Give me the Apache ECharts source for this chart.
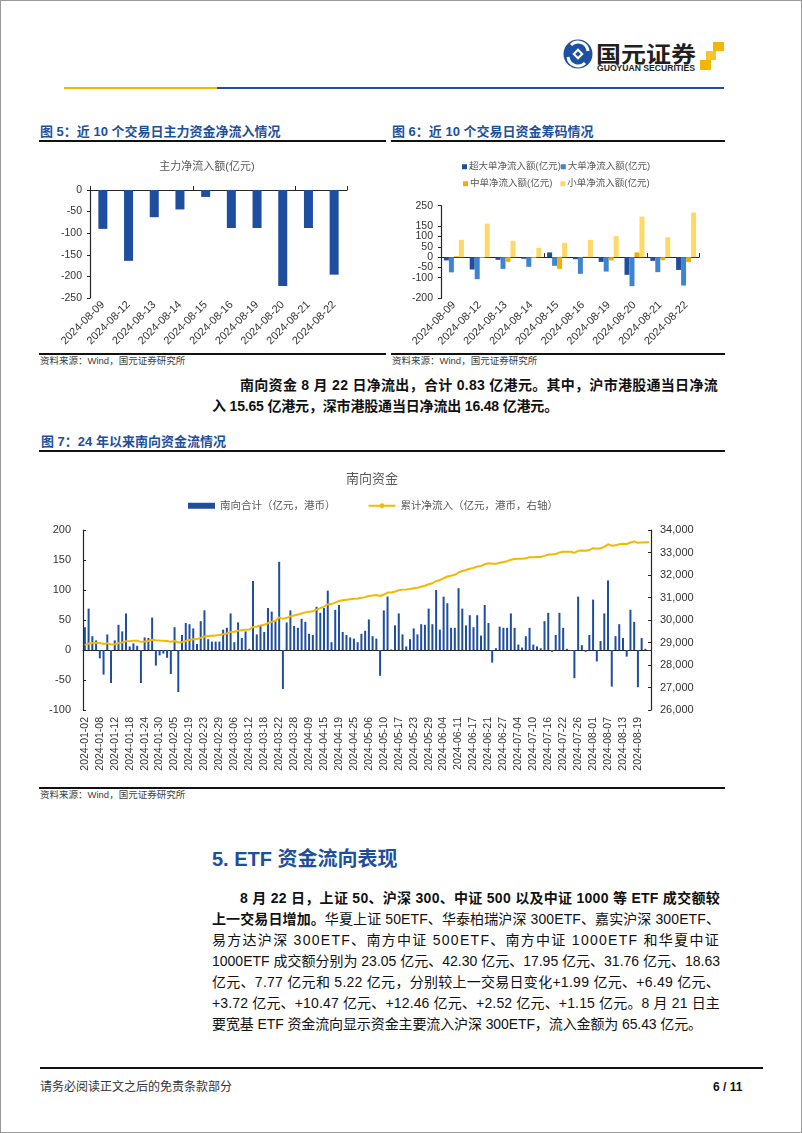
<!DOCTYPE html>
<html><head><meta charset="utf-8">
<script src="https://cdn.jsdelivr.net/npm/echarts/dist/echarts.min.js"></script>
<style>
html,body{margin:0;padding:0;background:#fff;}
#page{position:relative;width:802px;height:1133px;overflow:hidden;background:#fff;font-family:"Liberation Sans","Noto Sans CJK SC",sans-serif;}
.frame{position:absolute;left:0;top:0;width:800px;height:1131px;border:1px solid #9a9a9a;}
.abs{position:absolute;}
.rule{position:absolute;background:#111;}
.ftitle{position:absolute;font-size:13px;font-weight:bold;color:#1E4F9C;line-height:16px;white-space:nowrap;}
.src{position:absolute;font-size:9.5px;color:#404040;line-height:12px;white-space:nowrap;}
.ln{position:absolute;font-size:14px;line-height:21px;white-space:nowrap;color:#111;}
.b{font-weight:bold;}
.chart{position:absolute;}
</style></head>
<body>
<div id="page">
<div class="frame"></div>
<svg class="abs" style="left:0;top:0" width="802" height="100">
 <circle cx="578" cy="54" r="14.5" fill="#1E50A0"/>
 <path d="M571 45 A10 10 0 0 1 588 51" stroke="#fff" stroke-width="3" fill="none"/>
 <path d="M585 63 A10 10 0 0 1 568 57" stroke="#fff" stroke-width="3" fill="none"/>
 <rect x="574" y="50" width="8" height="8" fill="#fff" transform="rotate(45 578 54)"/>
 <rect x="576" y="52" width="4" height="4" fill="#1E50A0" transform="rotate(45 578 54)"/>
 <text x="596" y="62" font-size="22" font-weight="bold" fill="#231F20" textLength="100" lengthAdjust="spacingAndGlyphs" font-family="Noto Sans CJK SC">国元证券</text>
 <text x="597" y="71" font-size="8.5" font-weight="bold" fill="#231F20" textLength="98" lengthAdjust="spacingAndGlyphs" font-family="Liberation Sans">GUOYUAN SECURITIES</text>
 <rect x="713" y="42" width="11" height="9" fill="#F2B700"/>
 <rect x="706" y="51" width="10" height="9" fill="#F7C52B"/>
 <rect x="700" y="60" width="11" height="10" fill="#F2B700"/>
 <rect x="64" y="87" width="153" height="2" fill="#F5B800"/>
 <rect x="217" y="87" width="507" height="2" fill="#1E50A0"/>
</svg>

<div class="ftitle" style="left:40px;top:124px;">图 5：近 10 个交易日主力资金净流入情况</div>
<div class="ftitle" style="left:392px;top:124px;">图 6：近 10 个交易日资金筹码情况</div>
<div class="rule" style="left:39px;top:140px;width:347px;height:2px;"></div>
<div class="rule" style="left:391px;top:140px;width:334px;height:2px;"></div>
<div id="c5" class="chart" style="left:30px;top:150px;width:360px;height:200px;"></div>
<div id="c6" class="chart" style="left:390px;top:150px;width:330px;height:200px;"></div>
<div class="rule" style="left:39px;top:353px;width:347px;height:2px;"></div>
<div class="rule" style="left:391px;top:353px;width:334px;height:2px;"></div>
<div class="src" style="left:40px;top:355px;">资料来源：Wind，国元证券研究所</div>
<div class="src" style="left:392px;top:355px;">资料来源：Wind，国元证券研究所</div>

<div class="ln b" data-w="478" style="left:240px;top:374.5px;">南向资金 8 月 22 日净流出，合计 0.83 亿港元。其中，沪市港股通当日净流</div>
<div class="ln b" data-w="346" style="left:212px;top:396px;">入 15.65 亿港元，深市港股通当日净流出 16.48 亿港元。</div>

<div class="ftitle" style="left:41px;top:434px;">图 7：24 年以来南向资金流情况</div>
<div class="rule" style="left:39px;top:450px;width:686px;height:1.5px;"></div>
<div id="c7" class="chart" style="left:30px;top:465px;width:700px;height:315px;"></div>
<div class="rule" style="left:39px;top:787px;width:686px;height:2px;"></div>
<div class="src" style="left:40px;top:789px;">资料来源：Wind，国元证券研究所</div>

<div class="abs" style="left:212px;top:847px;font-size:20px;line-height:24px;font-weight:bold;color:#1E4F9C;white-space:nowrap;">5. ETF 资金流向表现</div>
<div class="ln b" data-w="480" style="left:240px;top:888px;">8 月 22 日，上证 50、沪深 300、中证 500 以及中证 1000 等 ETF 成交额较</div>
<div class="ln" data-w="508" style="left:212px;top:909px;"><span class="b">上一交易日增加。</span>华夏上证 50ETF、华泰柏瑞沪深 300ETF、嘉实沪深 300ETF、</div>
<div class="ln" data-w="508" style="left:212px;top:929.5px;">易方达沪深 300ETF、南方中证 500ETF、南方中证 1000ETF 和华夏中证</div>
<div class="ln" data-w="508" style="left:212px;top:950.5px;">1000ETF 成交额分别为 23.05 亿元、42.30 亿元、17.95 亿元、31.76 亿元、18.63</div>
<div class="ln" data-w="508" style="left:212px;top:971.5px;">亿元、7.77 亿元和 5.22 亿元，分别较上一交易日变化+1.99 亿元、+6.49 亿元、</div>
<div class="ln" data-w="508" style="left:212px;top:992.5px;">+3.72 亿元、+10.47 亿元、+12.46 亿元、+2.52 亿元、+1.15 亿元。8 月 21 日主</div>
<div class="ln" data-w="490" style="left:212px;top:1013.5px;">要宽基 ETF 资金流向显示资金主要流入沪深 300ETF，流入金额为 65.43 亿元。</div>

<div class="rule" style="left:40px;top:1067px;width:723px;height:2px;"></div>
<div class="abs" style="left:40px;top:1080px;font-size:12px;line-height:14px;color:#333;white-space:nowrap;">请务必阅读正文之后的免责条款部分</div>
<div class="abs" style="left:713px;top:1080px;font-size:12px;line-height:14px;color:#111;font-weight:bold;white-space:nowrap;">6 / 11</div>
</div>

<script>
// ---------- Data ----------
const fig5Title = '主力净流入额(亿元)';
const fig5Dates = ['2024-08-09','2024-08-12','2024-08-13','2024-08-14','2024-08-15','2024-08-16','2024-08-19','2024-08-20','2024-08-21','2024-08-22'];
const mainNetInflow = [-90,-164,-63,-45,-16,-88,-88,-222,-88,-196];

const fig6Names = ['超大单净流入额(亿元)','大单净流入额(亿元)','中单净流入额(亿元)','小单净流入额(亿元)'];
const superLargeOrders = [-16,-60,-13,-8,23,-10,-23,-86,-18,-62];
const largeOrders = [-74,-107,-57,-47,-42,-81,-70,-141,-73,-138];
const mediumOrders = [4,-4,-23,-5,-57,2,-16,23,-15,-24];
const smallOrders = [84,163,79,45,70,84,102,197,97,217];

const fig7Title = '南向资金';
const fig7Names = ['南向合计（亿元，港币）','累计净流入（亿元，港币，右轴）'];
const southDates = [
'2024-01-02','2024-01-03','2024-01-04','2024-01-05','2024-01-08','2024-01-09','2024-01-10','2024-01-11','2024-01-12','2024-01-15','2024-01-16','2024-01-17','2024-01-18','2024-01-19','2024-01-22','2024-01-23','2024-01-24','2024-01-25','2024-01-26','2024-01-29','2024-01-30','2024-01-31',
'2024-02-01','2024-02-02','2024-02-05','2024-02-06','2024-02-07','2024-02-08','2024-02-19','2024-02-20','2024-02-21','2024-02-22','2024-02-23','2024-02-26','2024-02-27','2024-02-28','2024-02-29',
'2024-03-01','2024-03-04','2024-03-05','2024-03-06','2024-03-07','2024-03-08','2024-03-11','2024-03-12','2024-03-13','2024-03-14','2024-03-15','2024-03-18','2024-03-19','2024-03-20','2024-03-21','2024-03-22','2024-03-25','2024-03-26','2024-03-27','2024-03-28',
'2024-04-02','2024-04-03','2024-04-08','2024-04-09','2024-04-10','2024-04-11','2024-04-12','2024-04-15','2024-04-16','2024-04-17','2024-04-18','2024-04-19','2024-04-22','2024-04-23','2024-04-24','2024-04-25','2024-04-26','2024-04-29','2024-04-30',
'2024-05-06','2024-05-07','2024-05-08','2024-05-09','2024-05-10','2024-05-13','2024-05-14','2024-05-16','2024-05-17','2024-05-20','2024-05-21','2024-05-22','2024-05-23','2024-05-24','2024-05-27','2024-05-28','2024-05-29','2024-05-30','2024-05-31',
'2024-06-03','2024-06-04','2024-06-05','2024-06-06','2024-06-07','2024-06-11','2024-06-12','2024-06-13','2024-06-14','2024-06-17','2024-06-18','2024-06-19','2024-06-20','2024-06-21','2024-06-24','2024-06-25','2024-06-26','2024-06-27','2024-06-28',
'2024-07-02','2024-07-03','2024-07-04','2024-07-05','2024-07-08','2024-07-09','2024-07-10','2024-07-11','2024-07-12','2024-07-15','2024-07-16','2024-07-17','2024-07-18','2024-07-19','2024-07-22','2024-07-23','2024-07-24','2024-07-25','2024-07-26','2024-07-29','2024-07-30','2024-07-31',
'2024-08-01','2024-08-02','2024-08-05','2024-08-06','2024-08-07','2024-08-08','2024-08-09','2024-08-12','2024-08-13','2024-08-14','2024-08-15','2024-08-16','2024-08-19','2024-08-20','2024-08-21','2024-08-22'];
const southNetFlow = [
38,69,23,16,-14,-41,26,-55,16,42,31,61,
6,11,7,-55,21,20,54,-26,-9,-6,-13,-40,
38,-70,25,45,43,36,10,48,66,18,14,14,
14,34,37,61,13,46,20,31,2,115,26,40,
30,70,64,50,147,-65,46,66,40,37,52,47,
27,25,72,62,70,99,13,67,75,30,25,21,
19,13,27,32,51,23,19,-43,66,89,1,41,
61,26,6,18,36,26,43,42,69,43,100,34,
89,78,37,37,103,69,41,58,38,58,24,75,
45,-21,3,39,37,37,61,37,9,4,23,37,
9,6,3,48,62,-3,25,62,37,2,-1,-47,
89,8,-3,25,84,-19,15,61,116,-61,23,43,
20,-11,67,47,-62,20,2,-0.83];
const southCumulative = [
28885,28954,28977,28993,28979,28938,28964,28909,28925,28967,28998,29059,
29065,29076,29083,29028,29049,29069,29123,29097,29088,29082,29069,29029,
29067,28997,29022,29067,29110,29146,29156,29204,29270,29288,29302,29316,
29330,29364,29401,29462,29475,29521,29541,29572,29574,29689,29715,29755,
29785,29855,29919,29969,30116,30051,30097,30163,30203,30240,30292,30339,
30366,30391,30463,30525,30595,30694,30707,30774,30849,30879,30904,30925,
30944,30957,30984,31016,31067,31090,31109,31066,31132,31221,31222,31263,
31324,31350,31356,31374,31410,31436,31479,31521,31590,31633,31733,31767,
31856,31934,31971,32008,32111,32180,32221,32279,32317,32375,32399,32474,
32519,32498,32501,32540,32577,32614,32675,32712,32721,32725,32748,32785,
32794,32800,32803,32851,32913,32910,32935,32997,33034,33036,33035,32988,
33077,33085,33082,33107,33191,33172,33187,33248,33364,33303,33326,33369,
33389,33378,33445,33492,33430,33450,33452,33451];

// ---------- Charts ----------
const FONT = "'Liberation Sans','Noto Sans CJK SC',sans-serif";
const AX = '#262626';
const LBL = '#333333';
const BLUE = '#1F4E9F';

function labelAxis(data, rotate, interval, fontSize, margin){
  return {type:'category', data:data, position:'bottom',
    axisLine:{show:false, onZero:false}, axisTick:{show:false},
    axisLabel:{rotate:rotate, interval:interval, fontSize:fontSize, color:LBL, margin:margin, fontFamily:FONT}};
}
function zeroAxis(data, ticks){
  return {type:'category', data:data, position:'bottom',
    axisLine:{onZero:true, onZeroAxisIndex:0, lineStyle:{color:AX, width:1.2}},
    axisTick:{show:ticks, inside:true, length:4, lineStyle:{color:AX}},
    axisLabel:{show:false}};
}
function valueAxis(min, max, interval, fontSize, margin, inside){
  return {type:'value', min:min, max:max, interval:interval,
    axisLine:{show:true, lineStyle:{color:AX, width:1.2}},
    axisTick:{show:true, inside:inside, length:3, lineStyle:{color:AX}},
    splitLine:{show:false},
    axisLabel:{fontSize:fontSize, lineHeight:Math.min(fontSize, 9), color:LBL, margin:margin, showMinLabel:true, showMaxLabel:true, hideOverlap:false}};
}

const c5 = echarts.init(document.getElementById('c5'));
c5.setOption({
  animation:false, textStyle:{fontFamily:FONT},
  graphic:[{type:'text', x:177, y:17, style:{text:fig5Title, fill:'#595959', fontSize:11, fontFamily:FONT, textAlign:'center', textVerticalAlign:'middle'}}],
  grid:{left:60, top:40, width:257, height:108},
  xAxis:[labelAxis(fig5Dates,45,0,11,5), zeroAxis(fig5Dates,true)],
  yAxis:valueAxis(-250,0,50,10.5,8,false),
  series:[{type:'bar', data:mainNetInflow, barWidth:9, itemStyle:{color:BLUE}}]
});

const c6 = echarts.init(document.getElementById('c6'));
const c6Colors = ['#1F4E9F','#3D85D0','#F0B000','#FFD966'];
c6.setOption({
  animation:false, textStyle:{fontFamily:FONT},
  legend:[
    {data:[fig6Names[0],fig6Names[1]], left:72, top:12, padding:0, itemWidth:5, itemHeight:5, itemGap:0, icon:'rect', textStyle:{fontSize:9.5, color:'#595959', padding:[0,0,0,-3]}},
    {data:[fig6Names[2],fig6Names[3]], left:73, top:29, padding:0, itemWidth:5, itemHeight:5, itemGap:8, icon:'rect', textStyle:{fontSize:9.5, color:'#595959', padding:[0,0,0,-3]}}
  ],
  grid:{left:51, top:55.7, width:258, height:92.6},
  xAxis:[labelAxis(fig5Dates,45,0,11,5), zeroAxis(fig5Dates,true)],
  yAxis:valueAxis(-200,250,50,10.5,8,false),
  series:[
    {name:fig6Names[0], type:'bar', data:superLargeOrders, barWidth:5, barGap:'0%', itemStyle:{color:c6Colors[0]}},
    {name:fig6Names[1], type:'bar', data:largeOrders, barWidth:5, barGap:'0%', itemStyle:{color:c6Colors[1]}},
    {name:fig6Names[2], type:'bar', data:mediumOrders, barWidth:5, barGap:'0%', itemStyle:{color:c6Colors[2]}},
    {name:fig6Names[3], type:'bar', data:smallOrders, barWidth:5, barGap:'0%', itemStyle:{color:c6Colors[3]}}
  ]
});

const c7 = echarts.init(document.getElementById('c7'));
const rightAxis = valueAxis(26000,34000,1000,11,9,true);
rightAxis.position = 'right';
rightAxis.axisLabel.formatter = function(v){return v.toLocaleString('en-US');};
c7.setOption({
  animation:false, textStyle:{fontFamily:FONT},
  graphic:[{type:'text', x:342, y:14, style:{text:fig7Title, fill:'#595959', fontSize:13, fontFamily:FONT, textAlign:'center', textVerticalAlign:'middle'}}],
  legend:{left:158, top:35.5, padding:0, itemWidth:27, itemHeight:6, itemGap:32,
    textStyle:{fontSize:10.5, color:'#595959'},
    data:[{name:fig7Names[0], icon:'rect'}, {name:fig7Names[1]}]},
  grid:{left:53, top:65, width:568, height:180},
  xAxis:[labelAxis(southDates,90,3,10.5,7), zeroAxis(southDates,false)],
  yAxis:[valueAxis(-100,200,50,11,12,true), rightAxis],
  series:[
    {name:fig7Names[0], type:'bar', data:southNetFlow, barWidth:2, itemStyle:{color:BLUE}},
    {name:fig7Names[1], type:'line', yAxisIndex:1, data:southCumulative, symbol:'none', lineStyle:{color:'#F5B800', width:2}, itemStyle:{color:'#F5B800'}}
  ]
});

// ---------- fit justified text lines ----------
function fitLines(){
  document.querySelectorAll('[data-w]').forEach(function(el){
    el.style.letterSpacing='0px';
    var w = el.getBoundingClientRect().width;
    var n = el.textContent.length;
    var target = +el.dataset.w;
    el.style.letterSpacing = ((target - w)/n)+'px';
  });
}
fitLines();
if (document.fonts && document.fonts.ready) document.fonts.ready.then(fitLines);
</script>
</body></html>
